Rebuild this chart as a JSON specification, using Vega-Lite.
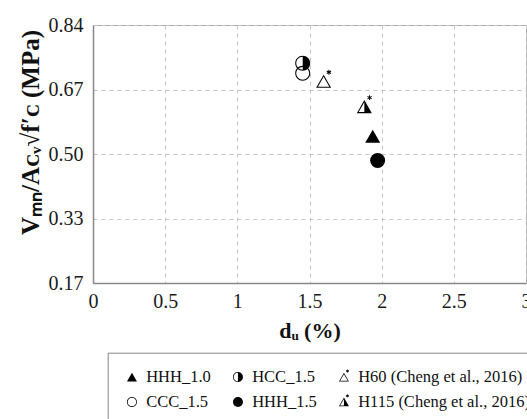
{
  "$schema": "https://vega.github.io/schema/vega-lite/v6.json",
  "width": 433,
  "height": 258,
  "autosize": {"type": "none"},
  "padding": {"left": 93, "top": 25, "right": 1, "bottom": 136},
  "background": "white",
  "config": {
    "font": "Liberation Serif",
    "view": {"stroke": "#aaa", "strokeWidth": 1}
  },
  "layer": [
    {
      "data": {
        "values": [
          {"series": "CCC_1.5", "du": 1.453, "v": 0.7145},
          {"series": "HCC_1.5", "du": 1.453, "v": 0.7405},
          {"series": "H60 (Cheng et al., 2016)", "du": 1.598, "v": 0.694},
          {"series": "H115 (Cheng et al., 2016)", "du": 1.88, "v": 0.628},
          {"series": "HHH_1.0", "du": 1.938, "v": 0.551},
          {"series": "HHH_1.5", "du": 1.972, "v": 0.488}
        ]
      },
      "mark": {"type": "point", "filled": true, "color": "black", "opacity": 1, "strokeWidth": 0, "size": 225},
      "encoding": {
        "x": {
          "field": "du",
          "type": "quantitative",
          "scale": {"domain": [0, 3], "nice": false, "zero": false},
          "axis": {
            "values": [0, 0.5, 1, 1.5, 2, 2.5, 3],
            "format": "~g",
            "grid": true,
            "gridDash": [4, 4],
            "gridColor": "#c4c4c4",
            "ticks": false,
            "domainColor": "#888",
            "domainWidth": 1.5,
            "labelFont": "Liberation Serif",
            "labelFontSize": 20,
            "labelColor": "#1a1a1a",
            "labelPadding": 8,
            "labelFlush": false,
            "labelOverlap": false,
            "title": "dᵤ (%)",
            "titleFont": "Liberation Serif",
            "titleFontSize": 22,
            "titleFontWeight": "bold",
            "titleColor": "#111",
            "titleY": 47,
            "titleBaseline": "middle"
          }
        },
        "y": {
          "field": "v",
          "type": "quantitative",
          "scale": {"domain": [0.17, 0.84], "nice": false, "zero": false},
          "axis": {
            "values": [0.17, 0.25375, 0.3375, 0.42125, 0.505, 0.58875, 0.6725, 0.75625, 0.84],
            "labelExpr": "datum.value < 0.2 ? '0.17' : abs(datum.value - 0.3375) < 0.01 ? '0.33' : abs(datum.value - 0.505) < 0.01 ? '0.50' : abs(datum.value - 0.6725) < 0.01 ? '0.67' : datum.value > 0.83 ? '0.84' : ''",
            "grid": true,
            "gridDash": [4, 4],
            "gridColor": "#c4c4c4",
            "ticks": false,
            "domainColor": "#888",
            "domainWidth": 1.5,
            "labelFont": "Liberation Serif",
            "labelFontSize": 20,
            "labelColor": "#1a1a1a",
            "labelPadding": 10,
            "labelOverlap": false,
            "title": "Vₘₙ/Aᴄᵥ√f′ᴄ (MPa)",
            "titleFont": "Liberation Serif",
            "titleFontSize": 25,
            "titleFontWeight": "bold",
            "titleColor": "#111",
            "titleX": -63,
            "titleY": 107,
            "titleAngle": -90,
            "titleAlign": "center",
            "titleBaseline": "middle"
          }
        },
        "shape": {
          "field": "series",
          "type": "nominal",
          "scale": {
            "domain": ["HHH_1.0", "HCC_1.5", "H60 (Cheng et al., 2016)", "CCC_1.5", "HHH_1.5", "H115 (Cheng et al., 2016)"],
            "range": [
              "M0,-0.87L1,0.87L-1,0.87Z",
              "M0,-1A1,1 0 1,1 0,1A1,1 0 1,1 0,-1Z M0,-0.86A0.86,0.86 0 0,0 0,0.86Z",
              "M0,-0.87L1,0.87L-1,0.87Z M0,-0.59L-0.76,0.73L0.76,0.73Z M0.635,-1.53L0.635,-0.87L0.765,-0.87L0.765,-1.53Z M0.954,-0.979L1.019,-1.091L0.447,-1.421L0.382,-1.309Z M1.019,-1.309L0.954,-1.421L0.382,-1.091L0.447,-0.979Z",
              "M0,-1A1,1 0 1,1 0,1A1,1 0 1,1 0,-1Z M0,-0.86A0.86,0.86 0 1,0 0,0.86A0.86,0.86 0 1,0 0,-0.86Z",
              "circle",
              "M0,-0.87L1,0.87L-1,0.87Z M0,-0.59L-0.76,0.73L0,0.73Z M0.635,-1.53L0.635,-0.87L0.765,-0.87L0.765,-1.53Z M0.954,-0.979L1.019,-1.091L0.447,-1.421L0.382,-1.309Z M1.019,-1.309L0.954,-1.421L0.382,-1.091L0.447,-0.979Z"
            ]
          },
          "legend": {
            "orient": "none",
            "legendX": 14.7,
            "legendY": 327.7,
            "columns": 3,
            "direction": "horizontal",
            "title": null,
            "symbolSize": 100,
            "symbolFillColor": "black",
            "symbolStrokeWidth": 0,
            "symbolOpacity": 1,
            "labelFont": "Liberation Serif",
            "labelFontSize": 16.5,
            "labelColor": "#111",
            "labelOffset": 6,
            "labelLimit": 300,
            "padding": 16,
            "strokeColor": "#888",
            "fillColor": "white",
            "columnPadding": 18,
            "rowPadding": 8
          }
        }
      }
    },
    {
      "mark": {"type": "rule", "color": "#ccc", "strokeWidth": 2, "clip": false},
      "encoding": {
        "x": {"datum": -0.59, "type": "quantitative", "scale": {"domain": [0, 3], "nice": false, "zero": false}},
        "x2": {"datum": 3.2},
        "y": {"datum": 0.892, "type": "quantitative", "scale": {"domain": [0.17, 0.84], "nice": false, "zero": false}}
      }
    }
  ]
}
